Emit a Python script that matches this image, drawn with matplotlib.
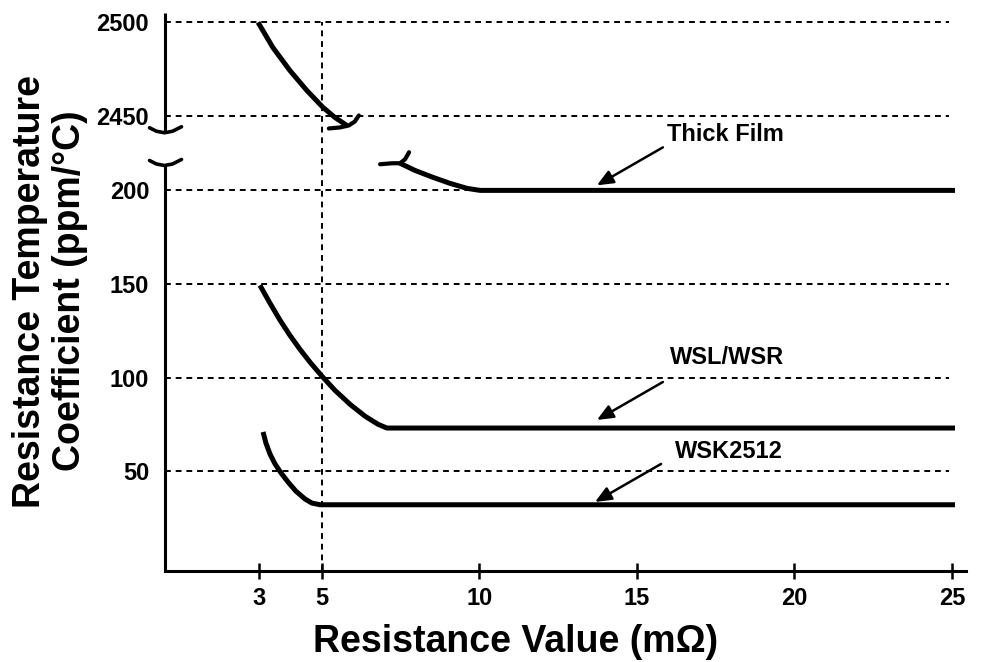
import numpy as np
import matplotlib
matplotlib.use("Agg")
import matplotlib.pyplot as plt
from matplotlib.transforms import ScaledTranslation

# curves (x in mOhm, y in ppm/C)
thick_upper_x = [2.97, 3.44, 3.98, 4.52, 5.03, 5.41, 5.79]
thick_upper_y = [2500, 2486.6, 2474.3, 2463.6, 2454.6, 2449.2, 2444.9]
thick_lower_x = [7.48, 7.95, 8.52, 9.06, 9.60, 10.02, 25.1]
thick_lower_y = [214.5, 210.7, 207.0, 203.8, 201.1, 200, 200]
wsl_x = [3.03, 3.35, 3.67, 3.98, 4.30, 4.62, 5.00, 5.41, 5.89, 6.37, 6.78, 7.06, 25.1]
wsl_y = [149.3, 139.7, 130.6, 122.6, 115.1, 108.2, 100.7, 93.2, 85.7, 79.3, 75.0, 73, 73]
wsk_x = [3.13, 3.22, 3.35, 3.51, 3.70, 3.92, 4.17, 4.46, 4.68, 4.94, 25.1]
wsk_y = [70.9, 65.0, 59.1, 53.8, 49.0, 44.2, 39.3, 35.1, 32.9, 32, 32]

series_labels = ["Thick Film", "WSL/WSR", "WSK2512"]
x_ticks = [3, 5, 10, 15, 20, 25]
y_ticks = [50, 100, 150, 200, 2450, 2500]
grid_y = [50, 100, 150, 200, 2450, 2500]
marker_x = 5

# broken y axis: squeeze 222..2434 into almost nothing
BREAK_IN = [-1e4, 222, 2434, 1e5]
BREAK_OUT = [-1e4, 222, 223.8, 1e5 - 2210.2]


def fwd(v):
    return np.interp(v, BREAK_IN, BREAK_OUT)


def inv(v):
    return np.interp(v, BREAK_OUT, BREAK_IN)


BOLD_FONT = ["Liberation Sans", "DejaVu Sans"]

fig = plt.figure(figsize=(9.82, 6.62), dpi=100)
ax = fig.add_axes([164.5 / 982, 1 - 571 / 662, (966 - 164.5) / 982, (571 - 13) / 662])
ax.set_yscale("function", functions=(fwd, inv))
ax.set_xlim(0, 25.45)
ax.set_ylim(-3.4, 2505)


def hook(x, y, pts, lw=3.0):
    # small break squiggle drawn in pixel offsets around a data point
    tr = fig.dpi_scale_trans + ScaledTranslation(x, y, ax.transData)
    pts = np.array(pts, dtype=float) / fig.dpi
    ax.plot(pts[:, 0], pts[:, 1], transform=tr, color="black", lw=lw,
            clip_on=False, solid_capstyle="round", zorder=5)


# grid
dash = (0, (3, 2.5))
ax.hlines(grid_y, 0, 24.9, colors="black", linestyles=dash, lw=1.4, zorder=1)
ax.vlines(marker_x, -3.4, 2500, colors="black", linestyles=dash, lw=1.4, zorder=1)

# curves
line_kw = dict(color="black", lw=3.6, solid_capstyle="butt", solid_joinstyle="round", zorder=4)
ax.plot(thick_upper_x, thick_upper_y, **line_kw)
ax.plot(thick_lower_x, thick_lower_y, **line_kw)
ax.plot(wsl_x, wsl_y, **line_kw)
ax.plot(wsk_x, wsk_y, **line_kw)

hook(thick_upper_x[-1], thick_upper_y[-1], [(-18, -3), (-7, -2), (2, 0), (8, 4), (12, 10)])
hook(thick_lower_x[0], thick_lower_y[0], [(-20, -1), (-8, 0), (0, 0), (5, 4), (9, 11)])

# spines, left one is broken
for s in ["top", "right", "left"]:
    ax.spines[s].set_visible(False)
ax.spines["bottom"].set_linewidth(2.2)
spine_kw = dict(color="black", lw=2.2, clip_on=False, solid_capstyle="butt", zorder=5)
ax.plot([0, 0], [-3.4, 213.3], **spine_kw)
ax.plot([0, 0], [2441, 2505], **spine_kw)
smile = [(-15, 5), (-8, 1.5), (0, 0), (8, 1.5), (17, 6)]
hook(0, 213.3, smile, lw=2.6)
hook(0, 2441, smile, lw=2.6)

ax.set_xticks(x_ticks)
ax.set_xticklabels([str(t) for t in x_ticks])
ax.set_yticks(y_ticks)
ax.set_yticklabels([str(t) for t in y_ticks])
ax.yaxis.set_minor_locator(matplotlib.ticker.NullLocator())
ax.tick_params(axis="x", direction="inout", length=11, width=1.8, pad=6)
ax.tick_params(axis="y", length=0, pad=11)
for lab in ax.get_xticklabels() + ax.get_yticklabels():
    lab.set_fontfamily(BOLD_FONT)
    lab.set_fontweight("bold")
    lab.set_fontsize(17)

# labels with arrows
tips = [(13.73, 202.7), (13.73, 77.3), (13.67, 33.5)]
text_offsets = [(70, 51), (73, 62), (80, 50)]
for label, tip, off in zip(series_labels, tips, text_offsets):
    ax.annotate("", xy=tip, xytext=(66, 38), textcoords="offset pixels",
                arrowprops=dict(arrowstyle="-|>,head_length=0.7,head_width=0.3",
                                lw=1.8, color="black", mutation_scale=14,
                                shrinkA=0, shrinkB=0))
    ax.annotate(label, xy=tip, xytext=off, textcoords="offset pixels",
                ha="left", va="center", fontsize=17, fontweight="bold",
                family=BOLD_FONT)

fig.text(516 / 982, 1 - 642 / 662, "Resistance Value (m\u03a9)", ha="center", va="center",
         fontsize=27, fontweight="bold", family=BOLD_FONT)
fig.text(50 / 982, 1 - 291 / 662, "Resistance Temperature\nCoefficient (ppm/\u00b0C)",
         ha="center", va="center", rotation=90, multialignment="center",
         fontsize=27, fontweight="bold", family=BOLD_FONT, linespacing=1.12)

fig.savefig("out.png", dpi=100)
